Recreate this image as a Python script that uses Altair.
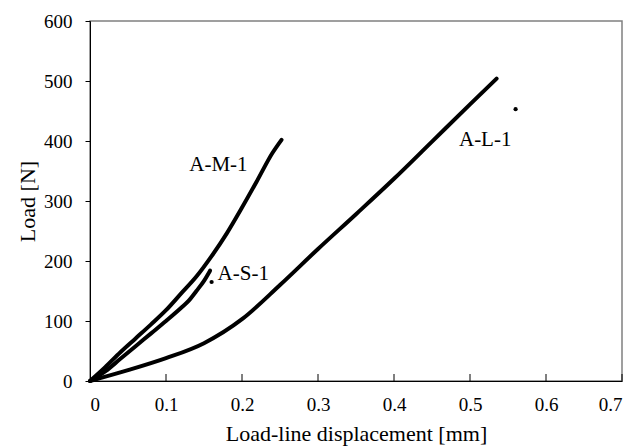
import altair as alt
import pandas as pd

# ---- data ----
am_x = [0.0, 0.02, 0.04, 0.06, 0.08, 0.10, 0.12, 0.14, 0.16, 0.18, 0.20, 0.22, 0.24, 0.252]
am_y = [0, 23, 48, 71, 94, 118, 146, 174, 208, 246, 289, 334, 380, 402]

as_x = [0.0, 0.02, 0.04, 0.06, 0.08, 0.10, 0.12, 0.13, 0.14, 0.15, 0.158]
as_y = [0, 16, 37, 58, 79, 100, 122, 134, 150, 167, 184]

al_x = [0.0, 0.05, 0.10, 0.15, 0.20, 0.25, 0.30, 0.35, 0.40, 0.45, 0.50, 0.535]
al_y = [0, 18, 38, 63, 103, 160, 220, 278, 337, 399, 461, 504]

label_names = ["A-M-1", "A-S-1", "A-L-1"]
label_x = [0.169, 0.2017, 0.52]
label_y = [360, 178, 402]

dot_x = [0.16, 0.56]
dot_y = [165, 453]

x_ticks = [0.1, 0.2, 0.3, 0.4, 0.5, 0.6, 0.7]
y_ticks = [0, 100, 200, 300, 400, 500, 600]

# ---- tables ----
rows = []
for name, xs, ys in [("A-M-1", am_x, am_y), ("A-S-1", as_x, as_y), ("A-L-1", al_x, al_y)]:
    for xv, yv in zip(xs, ys):
        rows.append({"series": name, "x": xv, "y": yv})
lines_df = pd.DataFrame(rows)
labels_df = pd.DataFrame({"label": label_names, "x": label_x, "y": label_y})
dots_df = pd.DataFrame({"x": dot_x, "y": dot_y})
ticks_df = pd.DataFrame({"x": x_ticks})

FONT = "Liberation Serif, Times New Roman, serif"

xscale = alt.Scale(domain=[0, 0.7], nice=False, zero=True)
yscale = alt.Scale(domain=[0, 600], nice=False)

xaxis = alt.Axis(
    values=x_ticks + [0.0], format="~g", ticks=False, grid=False,
    labelPadding=14, labelFontSize=19, labelFont=FONT, labelColor="black",
    domainColor="black", domainWidth=1,
    title="Load-line displacement [mm]", titleFont=FONT, titleFontSize=22,
    titleFontWeight="normal", titleColor="black", titleY=52, titleBaseline="middle",
)
yaxis = alt.Axis(
    values=y_ticks, format="d", ticks=True, tickSize=5, tickColor="black", grid=False,
    labelPadding=13, labelFontSize=19, labelFont=FONT, labelColor="black",
    domainColor="black", domainWidth=1,
    title="Load [N]", titleFont=FONT, titleFontSize=22, titleFontWeight="normal",
    titleColor="black", titleX=-63, titleY=180, titleAngle=270,
    titleAlign="center", titleBaseline="middle",
)

lines = alt.Chart(lines_df).mark_line(
    color="black", strokeWidth=4, strokeCap="round", strokeJoin="round",
    interpolate="monotone"
).encode(
    x=alt.X("x:Q", scale=xscale, axis=xaxis),
    y=alt.Y("y:Q", scale=yscale, axis=yaxis),
    detail="series:N",
)

dots = alt.Chart(dots_df).mark_circle(color="black", size=18, opacity=1).encode(
    x=alt.X("x:Q", scale=xscale),
    y=alt.Y("y:Q", scale=yscale),
)

labels = alt.Chart(labels_df).mark_text(
    font=FONT, fontSize=21, color="black", align="center", baseline="middle"
).encode(
    x=alt.X("x:Q", scale=xscale),
    y=alt.Y("y:Q", scale=yscale),
    text="label:N",
)

inner_ticks = alt.Chart(ticks_df).mark_rule(color="black", strokeWidth=1).encode(
    x=alt.X("x:Q", scale=xscale),
    y=alt.value(360),
    y2=alt.value(353),
)

chart = alt.layer(lines, dots, labels, inner_ticks).properties(
    width=532,
    height=360,
    padding={"left": 90, "top": 21, "right": 22, "bottom": 65},
    autosize=alt.AutoSizeParams(type="none"),
    background="white",
).configure_view(
    stroke="#808080", strokeWidth=1.5
)

chart.save("out.html", embed_options={"renderer": "svg", "actions": False})
